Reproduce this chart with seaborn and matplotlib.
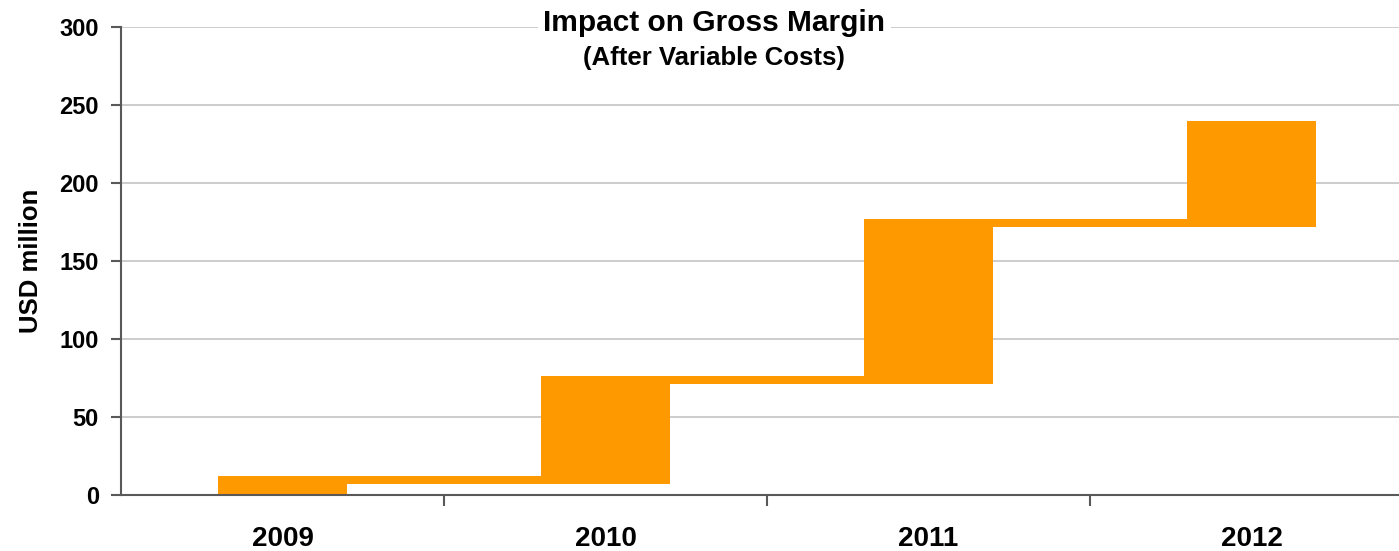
import matplotlib
matplotlib.use("Agg")
import matplotlib.pyplot as plt
import seaborn as sns
import pandas as pd
from matplotlib.ticker import FixedLocator

# Gross margin impact per year (USD million): floating bars from base to top
years = ["2009", "2010", "2011", "2012"]
bar_base = [0, 7, 71, 174]
bar_top = [12, 76, 177, 240]
# Thickness of the connector band that carries each year's top into the next year
link_thickness = 5

y_ticks = [0, 50, 100, 150, 200, 250, 300]

sns.set_theme(style="white")
plt.rcParams["font.family"] = ["Liberation Sans", "DejaVu Sans"]
plt.rcParams["font.weight"] = "bold"
plt.rcParams["text.color"] = "black"
plt.rcParams["axes.labelcolor"] = "black"
plt.rcParams["xtick.labelcolor"] = "black"
plt.rcParams["ytick.labelcolor"] = "black"

orange = "#ff9900"
axis_grey = "#595959"
grid_grey = "#c4c4c4"

fig = plt.figure(figsize=(13.99, 5.51), dpi=100)
ax = fig.add_axes([121 / 1399, 56 / 551, 1292 / 1399, 468 / 551])

df = pd.DataFrame({
    "year": years,
    "height": [t - b for t, b in zip(bar_top, bar_base)],
    "base": bar_base,
})

# Connector bands spanning from one year's bar to the next
for i in range(len(years) - 1):
    ax.bar(i + 0.5, link_thickness, width=1.4, bottom=bar_top[i] - link_thickness,
           color=orange, linewidth=0, zorder=2)

sns.barplot(data=df, x="year", y="height", bottom=df["base"], color=orange,
            width=0.4, saturation=1, linewidth=0, ax=ax, zorder=3)

ax.set_xlim(-0.5, 3.5)
ax.set_ylim(0, 300)
ax.set_yticks(y_ticks)
ax.set_yticklabels([str(v) for v in y_ticks], fontsize=17, fontweight="bold")
ax.set_xticks(range(len(years)))
ax.set_xticklabels(years, fontsize=20, fontweight="bold")
ax.xaxis.set_minor_locator(FixedLocator([0.5, 1.5, 2.5, 3.5]))

ax.tick_params(axis="x", which="major", length=0, pad=22, colors="black")
ax.tick_params(axis="x", which="minor", length=8, width=1.5, direction="out",
               color=axis_grey, bottom=True)
ax.tick_params(axis="y", which="major", length=7, width=1.5, direction="out",
               color=axis_grey, labelcolor="black", pad=9, left=True)

ax.set_xlabel("")
ax.set_ylabel("USD million", fontsize=18.5, fontweight="bold", labelpad=12,
              color="black")

for y in y_ticks[1:]:
    ax.axhline(y, color=grid_grey, linewidth=1.2, zorder=1)

for side in ["top", "right"]:
    ax.spines[side].set_visible(False)
for side in ["left", "bottom"]:
    ax.spines[side].set_color(axis_grey)
    ax.spines[side].set_linewidth(1.5)
    ax.spines[side].set_zorder(4)

fig.text(0.5105, 1 - 23 / 551, "Impact on Gross Margin", ha="center", va="center",
         fontsize=21.5, fontweight="bold", color="black",
         bbox=dict(facecolor="white", edgecolor="none", pad=4))
fig.text(0.5105, 1 - 58 / 551, "(After Variable Costs)", ha="center", va="center",
         fontsize=18.5, fontweight="bold", color="black")

fig.savefig("out.png", dpi=100, facecolor="white")
